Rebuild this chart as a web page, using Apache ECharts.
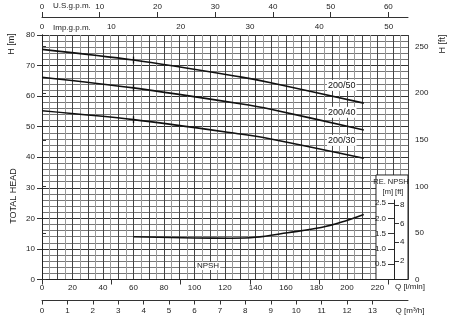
<!DOCTYPE html>
<html><head><meta charset="utf-8">
<script src="https://cdn.jsdelivr.net/npm/echarts@6/dist/echarts.min.js"></script>
<style>html,body{margin:0;padding:0;background:#fff}#c{width:450px;height:315px}</style>
</head><body><div id="c"></div>
<script>
// ---- data ----
const qHead = [0, 60, 130, 150, 211];
const head50 = [75.3, 71.8, 66.3, 64.4, 57.7];
const head40 = [66.2, 62.7, 57.5, 55.7, 48.9];
const head30 = [55.2, 52.3, 47.6, 46.0, 39.7];
const curveNames = ['200/50', '200/40', '200/30'];
const qNpsh = [60, 100, 124, 140, 161, 183, 196, 211];
const npsh = [1.40, 1.36, 1.35, 1.38, 1.53, 1.70, 1.87, 2.13];
const qLabels = [0, 20, 40, 60, 80, 100, 120, 140, 160, 180, 200, 220];
const usLabels = [0, 10, 20, 30, 40, 50, 60];
const impLabels = [0, 10, 20, 30, 40, 50];
const m3hLabels = [0,1,2,3,4,5,6,7,8,9,10,11,12,13];
const hLabels = [0,10,20,30,40,50,60,70,80];
const ftLabels = [0, 50, 100, 150, 200, 250];
const npshMLabels = [0.5, 1.0, 1.5, 2.0, 2.5];
const npshFtLabels = [2, 4, 6, 8];

const QMAX = 240, HMAX = 80;
const FONT = '"Liberation Sans Narrow","Liberation Sans",Arial,sans-serif';
const TXT = '#222';
const lab = (extra) => Object.assign({fontSize: 8, color: TXT, fontFamily: FONT}, extra || {});

const chart = echarts.init(document.getElementById('c'), null, {renderer: 'canvas'});

function curve(qs, hs, idx) {
  return qs.map((q, i) => {
    const item = {value: [q, hs[i]]};
    if (q === 60) { item.symbol = 'rect'; item.symbolSize = [1.3, 7]; }
    if (i === qs.length - 1) {
      item.symbol = 'circle'; item.symbolSize = 0.5;
      item.label = {show: true, formatter: curveNames[idx], position: 'top', offset: [-22, -7],
        fontSize: 9, color: '#111', fontFamily: FONT, backgroundColor: '#fff', padding: [1, 1]};
    }
    return item;
  });
}

const lineStyle = {color: '#111', width: 1.6};
const series = [head50, head40, head30].map((hs, k) => ({
  type: 'line', name: curveNames[k], xAxisIndex: 0, yAxisIndex: 0,
  data: curve(qHead, hs, k), smooth: 0.3,
  symbol: 'circle', symbolSize: 0, showSymbol: true,
  itemStyle: {color: '#111'}, lineStyle, z: 4, silent: true
}));
series.push({
  type: 'line', name: 'NPSH', xAxisIndex: 0, yAxisIndex: 2,
  data: qNpsh.map((q, i) => [q, npsh[i]]), smooth: 0.35, symbol: 'none', showSymbol: false,
  lineStyle, z: 4, silent: true,
  markArea: {silent: true, itemStyle: {color: '#fff', borderColor: '#222', borderWidth: 1},
    data: [[{coord: [219, 3.42]}, {coord: [QMAX, 0]}]]}
});
series.push({type: 'line', xAxisIndex: 4, yAxisIndex: 3, data: [], silent: true});

const option = {
  animation: false,
  backgroundColor: '#fff',
  grid: [
    {left: 42, right: 42, top: 35, bottom: 35.5},
    {left: 394, width: 1, top: 200, bottom: 35.5}
  ],
  xAxis: [
    {gridIndex: 0, type: 'value', min: 0, max: QMAX, interval: 10, position: 'bottom',
      axisLine: {show: true, lineStyle: {color: '#222', width: 1}},
      axisTick: {show: false},
      axisLabel: lab({margin: 4, customValues: qLabels}),
      splitLine: {show: true, lineStyle: {color: '#444', width: 1}},
      minorTick: {show: false, splitNumber: 2},
      minorSplitLine: {show: true, lineStyle: {color: '#999', width: 1}}},
    {gridIndex: 0, type: 'value', min: 0, max: QMAX / 3.78541, position: 'top', offset: 18,
      axisLine: {show: true, onZero: false, lineStyle: {color: '#333'}},
      axisTick: {show: true, length: 5, customValues: usLabels, lineStyle: {color: '#333'}},
      axisLabel: lab({margin: 6, customValues: usLabels}),
      splitLine: {show: false}},
    {gridIndex: 0, type: 'value', min: 0, max: QMAX / 4.54609, position: 'top', offset: 18,
      axisLine: {show: false},
      axisTick: {show: true, inside: true, length: 5, customValues: impLabels, lineStyle: {color: '#333'}},
      axisLabel: lab({inside: true, margin: 6, customValues: impLabels}),
      splitLine: {show: false}},
    {gridIndex: 0, type: 'value', min: 0, max: QMAX / 16.6667, position: 'bottom', offset: 21,
      axisLine: {show: true, onZero: false, lineStyle: {color: '#333'}},
      axisTick: {show: true, length: 4, customValues: m3hLabels, lineStyle: {color: '#333'}},
      axisLabel: lab({margin: 6, customValues: m3hLabels}),
      splitLine: {show: false}},
    {gridIndex: 1, type: 'value', min: 0, max: 1, show: false}
  ],
  yAxis: [
    {gridIndex: 0, type: 'value', min: 0, max: HMAX, interval: 10, position: 'left',
      axisLine: {show: true, lineStyle: {color: '#222'}},
      axisTick: {show: true, length: 5, customValues: hLabels, lineStyle: {color: '#333'}},
      axisLabel: lab({margin: 7, customValues: hLabels}),
      splitLine: {show: true, lineStyle: {color: '#333', width: 1}},
      minorTick: {show: false, splitNumber: 5},
      minorSplitLine: {show: true, lineStyle: {color: '#777', width: 1}}},
    {gridIndex: 0, type: 'value', min: 0, max: HMAX / 0.3048, position: 'right',
      axisLine: {show: true, lineStyle: {color: '#222'}},
      axisTick: {show: true, length: 4, customValues: ftLabels, lineStyle: {color: '#333'}},
      axisLabel: lab({margin: 7, customValues: ftLabels}),
      splitLine: {show: false}},
    {gridIndex: 0, type: 'value', min: 0, max: HMAX / 10, show: false},
    {gridIndex: 1, type: 'value', min: 0, max: 2.6, position: 'left', z: 10,
      axisLine: {show: true, lineStyle: {color: '#222'}},
      axisTick: {show: true, length: 6, customValues: npshMLabels, lineStyle: {color: '#333'}},
      axisLabel: lab({margin: 8, customValues: npshMLabels, formatter: v => Number(v).toFixed(1)}),
      splitLine: {show: false}},
    {gridIndex: 1, type: 'value', min: 0, max: 2.6 / 0.3048, position: 'right', z: 10,
      axisLine: {show: false},
      axisTick: {show: true, length: 4, customValues: npshFtLabels, lineStyle: {color: '#333'}},
      axisLabel: lab({margin: 5, customValues: npshFtLabels}),
      splitLine: {show: false}}
  ],
  graphic: [
    {type: 'text', x: 53, y: 6, style: {text: 'U.S.g.p.m.', fontSize: 8, fill: TXT, fontFamily: FONT, textVerticalAlign: 'middle'}},
    {type: 'text', x: 53, y: 28, style: {text: 'Imp.g.p.m.', fontSize: 8, fill: TXT, fontFamily: FONT, textVerticalAlign: 'middle'}},
    {type: 'text', x: 12, y: 44, rotation: Math.PI / 2, style: {text: 'H [m]', fontSize: 9, fill: TXT, fontFamily: FONT, textAlign: 'center', textVerticalAlign: 'middle'}},
    {type: 'text', x: 14, y: 196, rotation: Math.PI / 2, style: {text: 'TOTAL HEAD', fontSize: 9, fill: TXT, fontFamily: FONT, textAlign: 'center', textVerticalAlign: 'middle'}},
    {type: 'text', x: 443, y: 44, rotation: Math.PI / 2, style: {text: 'H [ft]', fontSize: 9, fill: TXT, fontFamily: FONT, textAlign: 'center', textVerticalAlign: 'middle'}},
    {type: 'text', x: 410, y: 287, style: {text: 'Q [l/min]', fontSize: 8, fill: TXT, fontFamily: FONT, textAlign: 'center', textVerticalAlign: 'middle'}},
    {type: 'text', x: 410, y: 311, style: {text: 'Q [m³/h]', fontSize: 8, fill: TXT, fontFamily: FONT, textAlign: 'center', textVerticalAlign: 'middle'}},
    {type: 'text', x: 391, y: 182, z: 20, style: {text: 'RE. NPSH', fontSize: 7.5, fill: TXT, fontFamily: FONT, textAlign: 'center', textVerticalAlign: 'middle'}},
    {type: 'text', x: 393, y: 192, z: 20, style: {text: '[m] [ft]', fontSize: 7.5, fill: TXT, fontFamily: FONT, textAlign: 'center', textVerticalAlign: 'middle'}},
    {type: 'text', x: 208, y: 266, z: 20, style: {text: 'NPSH', fontSize: 8, fill: TXT, fontFamily: FONT, textAlign: 'center', textVerticalAlign: 'middle', backgroundColor: '#fff', padding: [0, 1]}}
  ],
  series
};
chart.setOption(option);
</script>
</body></html>
